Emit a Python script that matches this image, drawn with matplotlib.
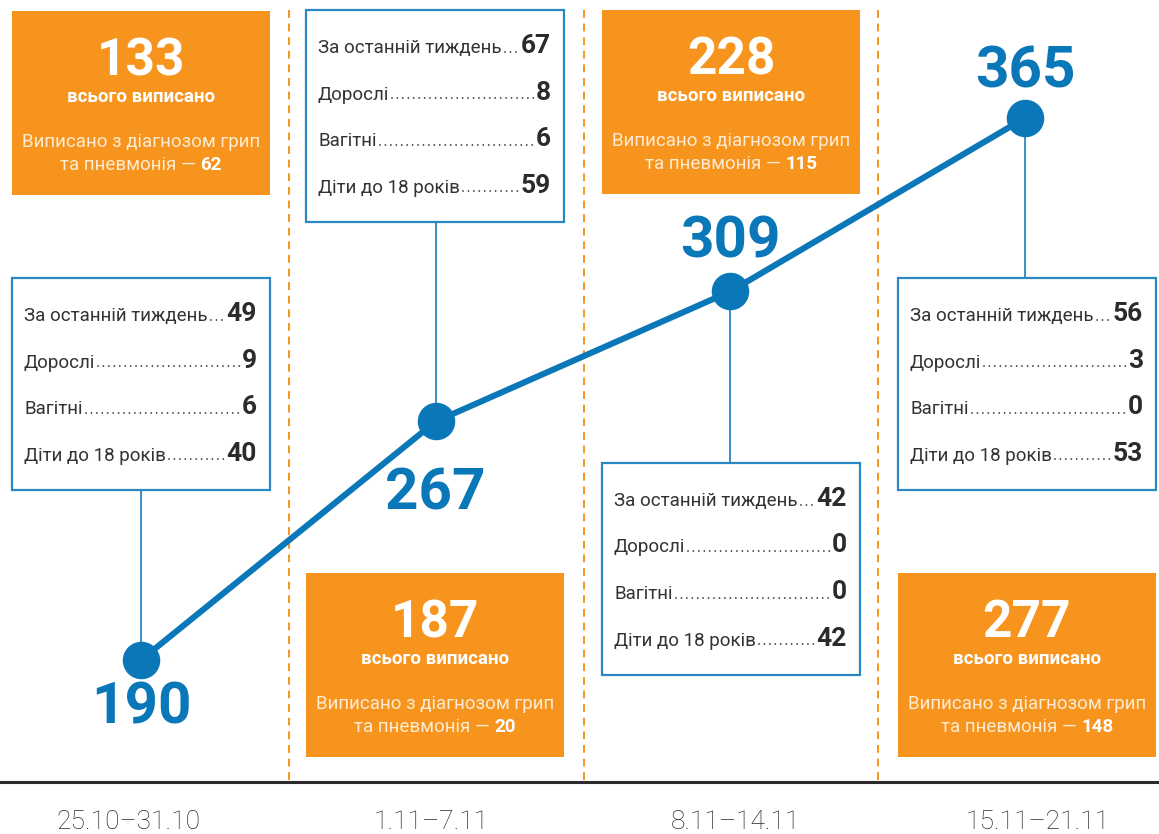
import matplotlib.pyplot as plt
from matplotlib.patches import Rectangle

# дані
weeks = ['25.10–31.10', '1.11–7.11', '8.11–14.11', '15.11–21.11']
total = [190, 267, 309, 365]
last_week = [49, 67, 42, 56]
adults = [9, 8, 0, 3]
pregnant = [6, 6, 0, 0]
children = [40, 59, 42, 53]
discharged = [133, 187, 228, 277]
flu_pneumonia = [62, 20, 115, 148]
row_labels = ['За останній тиждень', 'Дорослі', 'Вагітні', 'Діти до 18 років']

ORANGE = '#f7941d'
BLUE = '#0a78b8'
BORDER = '#2b87c2'
DARK = '#2b2b2b'
PALE = '#fdebd3'
FONT = 'Roboto'

W, H = 1159, 834
fig = plt.figure(figsize=(W / 100, H / 100), dpi=100)
fig.patch.set_facecolor('white')

# шар розмітки в пікселях (y вниз)
lay = fig.add_axes([0, 0, 1, 1])
lay.set_xlim(0, W)
lay.set_ylim(H, 0)
lay.axis('off')

# шар графіка в одиницях даних
ax = fig.add_axes([0, 0, 1, 1])
ax.set_xlim(-0.4785, 3.4547)
ax.set_ylim(133.8, 403.1)
ax.axis('off')
ax.patch.set_alpha(0)

renderer = fig.canvas.get_renderer()


def width_px(t):
    return t.get_window_extent(renderer).width


def px_to_val(x, y):
    d = lay.transData.transform((x, y))
    return ax.transData.inverted().transform(d)[1]


box_left = [12, 306, 602, 898]
box_w = 258
orange_top = [11, 573, 10, 573]
white_top = [278, 10, 463, 278]
box_h_or = 184
box_h_wh = 212
col_sep = [289, 584, 878]
label_x = [128, 431, 735, 1038]
value_dy = [-48, -73, 49, 46]

# пунктирні розділювачі
for xs in col_sep:
    lay.plot([xs, xs], [10, 780], color=ORANGE, lw=1.4, ls=(0, (4, 3)), zorder=1)

# базова лінія
lay.plot([0, W], [782, 782], color=DARK, lw=2.2, zorder=2)
for i, w in enumerate(weeks):
    lay.text(label_x[i], 822, w, ha='center', va='center', fontsize=19,
             family=FONT, fontweight='light', color=DARK)

# помаранчеві блоки
for i in range(4):
    x0, y0 = box_left[i], orange_top[i]
    lay.add_patch(Rectangle((x0, y0), box_w, box_h_or, facecolor=ORANGE,
                            edgecolor='none', zorder=3))
    cx = x0 + box_w / 2
    lay.text(cx, y0 + 50, str(discharged[i]), ha='center', va='center',
             fontsize=37, fontweight='bold', family=FONT, color='white', zorder=4)
    lay.text(cx, y0 + 86, 'всього виписано', ha='center', va='center',
             fontsize=13.5, fontweight='bold', family=FONT, color='white', zorder=4)
    lay.text(cx, y0 + 136, 'Виписано з діагнозом грип', ha='center',
             va='baseline', fontsize=13.5, family=FONT, color=PALE, zorder=4)
    # рядок з різною вагою шрифту
    t1 = lay.text(0, y0 + 159, 'та пневмонія — ', ha='left', va='baseline',
                  fontsize=13.5, family=FONT, color=PALE, zorder=4)
    t2 = lay.text(0, y0 + 159, str(flu_pneumonia[i]), ha='left', va='baseline',
                  fontsize=13.5, fontweight='bold', family=FONT,
                  color='white', zorder=4)
    w1, w2 = width_px(t1), width_px(t2)
    start = cx - (w1 + w2) / 2
    t1.set_x(start)
    t2.set_x(start + w1)

# білі блоки з переліком
for i in range(4):
    x0, y0 = box_left[i], white_top[i]
    lay.add_patch(Rectangle((x0, y0), box_w, box_h_wh, facecolor='white',
                            edgecolor=BORDER, lw=1.6, zorder=3))
    vals = [last_week[i], adults[i], pregnant[i], children[i]]
    for k, (lab, v) in enumerate(zip(row_labels, vals)):
        yb = y0 + 43 + 46.5 * k
        tl = lay.text(x0 + 12, yb, lab, ha='left', va='baseline', fontsize=13.5,
                      family=FONT, color='#333333', zorder=4)
        tv = lay.text(x0 + box_w - 13, yb, str(v), ha='right', va='baseline',
                      fontsize=19, fontweight='bold', family=FONT, color=DARK,
                      zorder=4)
        a = x0 + 12 + width_px(tl) + 3
        b = x0 + box_w - 13 - width_px(tv) - 2
        lay.plot([a, b], [yb - 1.3, yb - 1.3], color='#333333', lw=1.3,
                 ls=(0, (0.01, 3.0)), dash_capstyle='round', zorder=4)

    # з'єднувальна лінія від точки до блоку
    py = lay.transData.inverted().transform(ax.transData.transform((i, total[i])))[1]
    edge = y0 + box_h_wh if y0 + box_h_wh < py else y0
    ax.plot([i, i], [total[i], px_to_val(0, edge)], color=BORDER, lw=1.3, zorder=2)

# лінія загальної кількості
xs = list(range(len(total)))
ax.plot(xs, total, color=BLUE, lw=4.4, solid_capstyle='round', zorder=5)
ax.plot(xs, total, 'o', color=BLUE, ms=26, zorder=6)
for i, v in enumerate(total):
    ax.annotate(str(v), (i, v), xytext=(0, value_dy[i] * 0.72),
                textcoords='offset points', ha='center', va='center',
                fontsize=42, fontweight='bold', family=FONT, color=BLUE, zorder=7)

fig.savefig('out.png', dpi=100)
